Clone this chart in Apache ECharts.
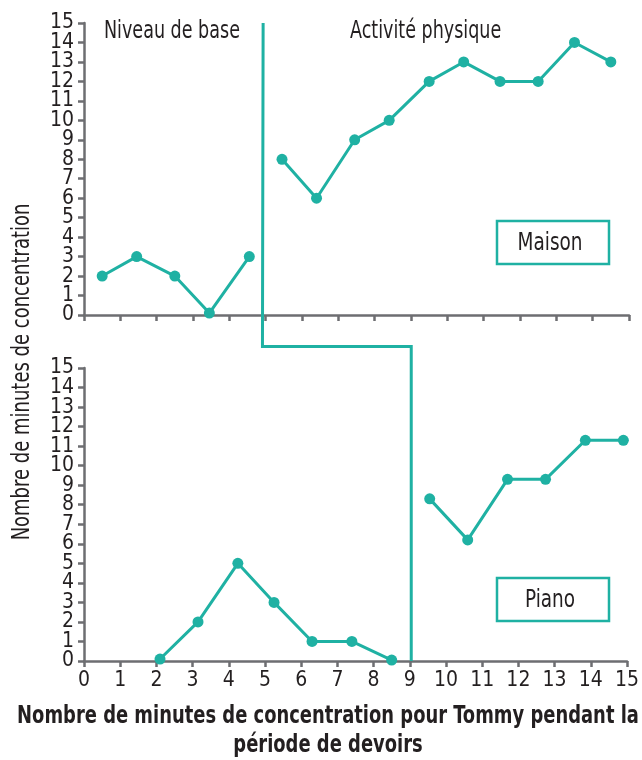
<!DOCTYPE html>
<html><head><meta charset="utf-8">
<script src="https://cdn.jsdelivr.net/npm/echarts@6/dist/echarts.min.js"></script>
<style>html,body{margin:0;padding:0;background:#fff}#c{width:642px;height:760px}</style>
</head><body><div id="c"></div>
<script>
// ---- data ----
const xTickLabels = ['0','1','2','3','4','5','6','7','8','9','10','11','12','13','14','15'];
const yTickLabels = ['0','1','2','3','4','5','6','7','8','9','10','11','12','13','14','15'];
const maisonBaseX = [0.5, 1.45, 2.5, 3.45, 4.55];
const maisonBaseY = [2, 3, 2, 0.1, 3];
const maisonActX = [5.45, 6.4, 7.45, 8.4, 9.5, 10.45, 11.45, 12.5, 13.5, 14.5];
const maisonActY = [8, 6, 9, 10, 12, 13, 12, 12, 14, 13];
const pianoBaseX = [2.1, 3.15, 4.25, 5.25, 6.3, 7.4, 8.5];
const pianoBaseY = [0.1, 2, 5, 3, 1, 1, 0.05];
const pianoActX = [9.55, 10.6, 11.7, 12.75, 13.85, 14.9];
const pianoActY = [8.3, 6.2, 9.3, 9.3, 11.3, 11.3];
const phaseChangeMaison = 4.93;
const phaseChangePiano = 9.04;
const phaseConnectY = 16.1; // in lower panel units
const labelMaison = 'Maison';
const labelPiano = 'Piano';
const phaseNames = ['Niveau de base', 'Activité physique'];
const yTitle = 'Nombre de minutes de concentration';
const xTitle = 'Nombre de minutes de concentration pour Tommy pendant la\npériode de devoirs';

// ---- style ----
const TEAL = '#1fb1a3';
const AXIS = '#6d6e71';
const TXT = '#231f20';
const FONT = '"DejaVu Sans Condensed","Liberation Sans Narrow","DejaVu Sans",sans-serif';
const pairs = (xs, ys) => xs.map((x, i) => [x, ys[i]]);

const chart = echarts.init(document.getElementById('c'), null, {renderer: 'canvas'});

function xAxis(gi, showLabels) {
  return {
    type: 'value', gridIndex: gi, min: 0, max: 15, interval: 1,
    axisLine: {show: true, lineStyle: {color: AXIS, width: 2.5}},
    axisTick: {show: true, length: 6, lineStyle: {color: AXIS, width: 2.5}},
    axisLabel: {show: showLabels, margin: 9, fontFamily: FONT, fontSize: 21, color: TXT,
      showMinLabel: true, showMaxLabel: true, hideOverlap: false,
      formatter: v => xTickLabels[v]},
    splitLine: {show: false}
  };
}
function yAxis(gi) {
  return {
    type: 'value', gridIndex: gi, min: 0, max: 15, interval: 1, position: 'left',
    axisLine: {show: true, lineStyle: {color: AXIS, width: 2.5}},
    axisTick: {show: true, length: 6, lineStyle: {color: AXIS, width: 2.5}},
    axisLabel: {show: false},
    splitLine: {show: false}
  };
}
// label axis: all tick labels of the y scale (category axis keeps every label)
function yLabelAxis(gi) {
  return {
    type: 'category', gridIndex: gi, data: yTickLabels, boundaryGap: false, position: 'left', offset: 0,
    axisLine: {show: false}, axisTick: {show: false}, splitLine: {show: false},
    axisLabel: {show: true, interval: 0, margin: 10, fontFamily: FONT, fontSize: 21, color: TXT, hideOverlap: false}
  };
}
function ser(gi, xs, ys) {
  return {
    type: 'line', xAxisIndex: gi, yAxisIndex: gi, data: pairs(xs, ys),
    symbol: 'circle', symbolSize: 11, clip: false,
    lineStyle: {color: TEAL, width: 3}, itemStyle: {color: TEAL},
    animation: false
  };
}

chart.setOption({
  animation: false,
  backgroundColor: '#fff',
  grid: [
    {left: 84, top: 23, width: 545, height: 292},
    {left: 84, top: 368, width: 545, height: 293}
  ],
  xAxis: [xAxis(0, false), xAxis(1, true)],
  yAxis: [yAxis(0), yAxis(1), yLabelAxis(0), yLabelAxis(1)],
  series: [
    ser(0, maisonBaseX, maisonBaseY),
    ser(0, maisonActX, maisonActY),
    ser(1, pianoBaseX, pianoBaseY),
    ser(1, pianoActX, pianoActY)
  ]
});

// phase change line and annotations
const pTop = chart.convertToPixel({gridIndex: 0}, [phaseChangeMaison, 15]);
const pMid1 = chart.convertToPixel({gridIndex: 1}, [phaseChangeMaison, phaseConnectY]);
const pMid2 = chart.convertToPixel({gridIndex: 1}, [phaseChangePiano, phaseConnectY]);
const pBot = chart.convertToPixel({gridIndex: 1}, [phaseChangePiano, 0]);

const textStyle = (s, size, extra) => Object.assign({text: s, fontFamily: FONT, fontSize: size, fill: TXT}, extra || {});
const SX = 0.78;

chart.setOption({
  graphic: [
    {type: 'polyline', z: 10, shape: {points: [[pTop[0], pTop[1]], [pMid1[0], pMid1[1]], [pMid2[0], pMid2[1]], [pBot[0], pBot[1]]]},
      style: {stroke: TEAL, lineWidth: 3, fill: null}},
    {type: 'text', x: 104, y: 31, scaleX: SX, style: textStyle(phaseNames[0], 25, {align: 'left', verticalAlign: 'middle'})},
    {type: 'text', x: 350, y: 31, scaleX: SX, style: textStyle(phaseNames[1], 25, {align: 'left', verticalAlign: 'middle'})},
    {type: 'rect', shape: {x: 497, y: 221, width: 112, height: 43}, style: {stroke: TEAL, lineWidth: 2.5, fill: '#fff'}},
    {type: 'text', x: 550, y: 243, scaleX: 0.82, style: textStyle(labelMaison, 25, {align: 'center', verticalAlign: 'middle'})},
    {type: 'rect', shape: {x: 497, y: 578, width: 112, height: 43}, style: {stroke: TEAL, lineWidth: 2.5, fill: '#fff'}},
    {type: 'text', x: 550, y: 600, scaleX: 0.82, style: textStyle(labelPiano, 25, {align: 'center', verticalAlign: 'middle'})},
    {type: 'text', x: 22, y: 372, rotation: Math.PI / 2, scaleX: 0.80,
      style: textStyle(yTitle, 25, {align: 'center', verticalAlign: 'middle'})},
    {type: 'text', x: 328, y: 731, scaleX: 0.83,
      style: textStyle(xTitle, 24, {align: 'center', verticalAlign: 'middle', fontWeight: 'bold', lineHeight: 29})}
  ]
});
</script></body></html>
